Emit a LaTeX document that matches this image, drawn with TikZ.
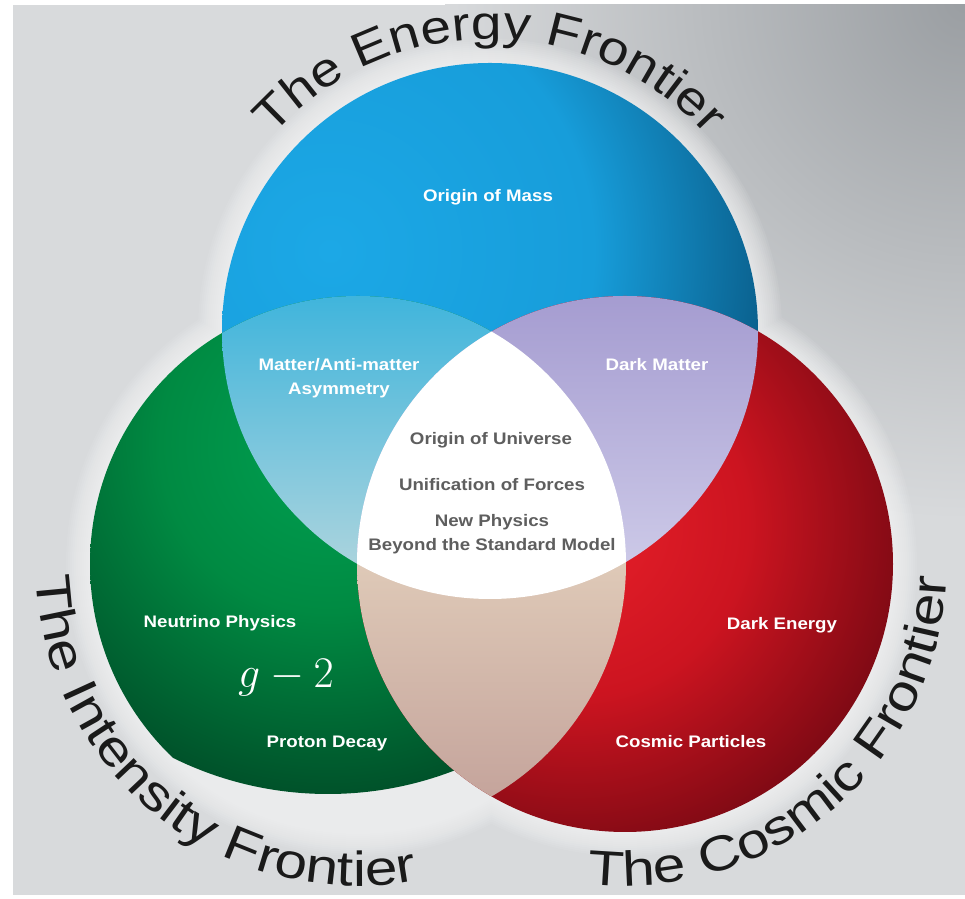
\documentclass[tikz,border=0pt]{standalone}
\usepackage{fontspec}
\usetikzlibrary{calc,decorations.text}
\newfontfamily\bigfontA[FakeStretch=1.16]{Liberation Sans}
\newfontfamily\bigfontB[FakeStretch=1.19]{Liberation Sans}
\newfontfamily\labfont[FakeStretch=1.12]{Liberation Sans}
\definecolor{bgbase}{HTML}{D8DADC}
\definecolor{bgcorner}{HTML}{9A9EA2}
\definecolor{bluelight}{HTML}{1CA8E6}
\definecolor{bluemid}{HTML}{179DDA}
\definecolor{bluedark}{HTML}{0A5F8C}
\definecolor{greenlight}{HTML}{00A152}
\definecolor{greenmid}{HTML}{008A42}
\definecolor{greendark}{HTML}{00522A}
\definecolor{redlight}{HTML}{E8202A}
\definecolor{redmid}{HTML}{CC1420}
\definecolor{reddark}{HTML}{720812}
\definecolor{bgTop}{HTML}{3DB4DC}
\definecolor{bgBot}{HTML}{ACD4DD}
\definecolor{brTop}{HTML}{A49BD0}
\definecolor{brBot}{HTML}{CDCAE8}
\definecolor{grTop}{HTML}{DFCAB8}
\definecolor{grBot}{HTML}{C4A39B}
\definecolor{midtext}{HTML}{5E5E5E}
\definecolor{bigtext}{HTML}{1A1A1A}
\pgfdeclareradialshading{cornershade}{\pgfpoint{0bp}{0bp}}{color(0bp)=(bgcorner); color(25bp)=(bgbase); color(50bp)=(bgbase)}
\pgfdeclareradialshading{blueshade}{\pgfpoint{0bp}{0bp}}{color(0bp)=(bluelight); color(15bp)=(bluemid); color(25bp)=(bluedark); color(50bp)=(bluedark)}
\pgfdeclareradialshading{greenshade}{\pgfpoint{0bp}{0bp}}{color(0bp)=(greenlight); color(12bp)=(greenmid); color(25bp)=(greendark); color(50bp)=(greendark)}
\pgfdeclareradialshading{redshade}{\pgfpoint{0bp}{0bp}}{color(0bp)=(redlight); color(12bp)=(redmid); color(25bp)=(reddark); color(50bp)=(reddark)}
\tikzset{
  wlabel/.style={text=white, font=\labfont\bfseries\fontsize{9.5}{13.5}\selectfont, align=center, inner sep=0pt},
  glabel/.style={text=midtext, font=\labfont\bfseries\fontsize{9.5}{14}\selectfont, align=center, inner sep=0pt},
  arctextA/.style={decorate, decoration={text along path, text align=center, text color=bigtext, text={|\bigfontA\fontsize{27}{32}\selectfont|#1}}},
  arctextB/.style={decorate, decoration={text along path, text align=center, text color=bigtext, text={|\bigfontB\fontsize{28}{33}\selectfont|#1}}}
}
\begin{document}
\begin{tikzpicture}[x=0.02cm,y=0.02cm]
\useasboundingbox (0,0) rectangle (965,899);
\fill[white] (0,0) rectangle (965,899);
\fill[bgbase] (13,4) rectangle (965,894);
\begin{scope}
  \clip (13,4) rectangle (965,894);
  \shade[shading=cornershade] (965,899) circle (520);
\end{scope}
\coordinate (B) at (490,568);
\coordinate (G) at (358,335);
\coordinate (R) at (625,335);
% glow
\foreach \k in {1,...,12}
  \fill[white,opacity=0.07] (B) circle ({268+2*\k}) (G) circle ({268+2*\k}) (R) circle ({268+2*\k});
% circles
\begin{scope}
  \clip (B) circle (268);
  \shade[shading=blueshade] ($(B)+(-160,80)$) circle (440);
\end{scope}
\begin{scope}
  \clip (G) circle (268);
  \shade[shading=greenshade] ($(G)+(-30,120)$) circle (350);
\end{scope}
\begin{scope}
  \clip (R) circle (268);
  \shade[shading=redshade] ($(R)+(-50,40)$) circle (360);
\end{scope}
% pairwise intersections
\begin{scope}
  \clip (B) circle (268); \clip (G) circle (268);
  \shade[top color=bgTop, bottom color=bgBot] (215,330) rectangle (630,610);
\end{scope}
\begin{scope}
  \clip (B) circle (268); \clip (R) circle (268);
  \shade[top color=brTop, bottom color=brBot] (350,330) rectangle (765,610);
\end{scope}
\begin{scope}
  \clip (G) circle (268); \clip (R) circle (268);
  \shade[top color=grTop, bottom color=grBot] (350,95) rectangle (635,340);
\end{scope}
% centre
\begin{scope}
  \clip (B) circle (268); \clip (G) circle (268);
  \fill[white] (R) circle (268);
\end{scope}
% curved titles
\coordinate (eS) at ($(B)+(150:292)$);
\coordinate (iS) at ($(G)+(170:322)$);
\coordinate (cS) at ($(R)+(249:322)$);
\path[arctextA={The Energy Frontier}] (eS) arc[start angle=150, end angle=30, radius=292];
\path[arctextB={The Intensity Frontier}] (iS) arc[start angle=170, end angle=293, radius=322];
\path[arctextB={The Cosmic Frontier}] (cS) arc[start angle=249, end angle=372, radius=322];
% labels
\node[wlabel] (mass) at (488,702) {Origin of Mass};
\node[wlabel] (asym) at (339,521) {Matter/Anti-matter\\Asymmetry};
\node[wlabel] (dm) at (657,534) {Dark Matter};
\node[glabel] (univ) at (491,459) {Origin of Universe};
\node[glabel] (unif) at (492,414) {Unification of Forces};
\node[glabel] (bsm) at (492,365) {New Physics\\Beyond the Standard Model};
\node[wlabel] (nu) at (220,276) {Neutrino Physics};
\node[text=white, inner sep=0pt] (gm2) at (286,221) {\fontsize{26}{30}\selectfont $g-2$};
\node[wlabel] (pd) at (327,156) {Proton Decay};
\node[wlabel] (de) at (782,274) {Dark Energy};
\node[wlabel] (cp) at (691,157) {Cosmic Particles};
\end{tikzpicture}
\end{document}
